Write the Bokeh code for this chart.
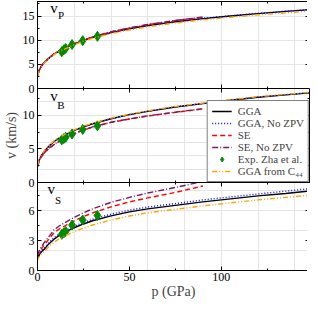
from bokeh.plotting import figure
from bokeh.layouts import column
from bokeh.models import (Range1d, LinearAxis, SingleIntervalTicker, CustomJSTickFormatter,
                          Legend, LegendItem, Label)
from bokeh.embed import file_html
from bokeh.resources import INLINE

# ---------------- data ----------------
p_gga = [0, 1, 2, 4, 6, 9, 12, 15, 20, 25, 30, 40, 50, 60, 75, 90, 105, 120, 135, 148]
p_se = [0, 1, 2, 4, 6, 9, 12, 15, 20, 25, 30, 40, 50, 60, 75, 90]
p_exp = [13.2, 14.3, 15.3, 18.8, 24.6, 32.6]

# v_P
vp_gga = [2.7, 3.8, 4.55, 5.5, 6.2, 7.1, 7.8, 8.35, 9.2, 9.95, 10.55, 11.55, 12.35, 13.0, 13.8, 14.45, 15.0, 15.5, 15.95, 16.3]
vp_gga_nozpv = [2.7, 3.8, 4.55, 5.5, 6.2, 7.1, 7.8, 8.35, 9.22, 9.97, 10.58, 11.58, 12.38, 13.03, 13.83, 14.5, 15.05, 15.55, 15.98, 16.33]
vp_se = [2.7, 3.8, 4.55, 5.5, 6.2, 7.15, 7.85, 8.4, 9.3, 10.05, 10.65, 11.7, 12.5, 13.2, 14.05, 14.75]
vp_se_nozpv = [2.75, 3.85, 4.6, 5.55, 6.25, 7.2, 7.9, 8.45, 9.33, 10.08, 10.68, 11.73, 12.53, 13.23, 14.08, 14.78]
vp_exp = [7.6, 8.0, 8.3, 9.1, 9.9, 10.8]
vp_c44 = [2.6, 3.7, 4.45, 5.4, 6.1, 7.0, 7.7, 8.2, 9.05, 9.8, 10.4, 11.35, 12.1, 12.75, 13.55, 14.2, 14.75, 15.25, 15.65, 16.0]

# v_B
vb_gga = [2.45, 3.35, 3.95, 4.75, 5.35, 6.1, 6.65, 7.1, 7.75, 8.3, 8.75, 9.5, 10.1, 10.6, 11.25, 11.75, 12.25, 12.7, 13.05, 13.35]
vb_gga_nozpv = [2.45, 3.35, 3.95, 4.75, 5.35, 6.1, 6.65, 7.1, 7.75, 8.3, 8.76, 9.52, 10.12, 10.62, 11.27, 11.78, 12.28, 12.73, 13.08, 13.38]
vb_se = [2.4, 3.25, 3.8, 4.5, 5.0, 5.65, 6.15, 6.6, 7.25, 7.8, 8.25, 8.95, 9.45, 9.9, 10.45, 10.95]
vb_se_nozpv = [2.42, 3.28, 3.83, 4.53, 5.03, 5.68, 6.18, 6.63, 7.28, 7.83, 8.28, 8.98, 9.48, 9.93, 10.48, 10.98]
vb_exp = [6.35, 6.54, 6.73, 7.22, 7.9, 8.44]
vb_c44 = [2.55, 3.45, 4.05, 4.85, 5.45, 6.2, 6.75, 7.2, 7.85, 8.38, 8.83, 9.58, 10.18, 10.68, 11.33, 11.83, 12.33, 12.78, 13.13, 13.43]

# v_S
vs_gga = [1.2, 1.6, 1.85, 2.2, 2.65, 3.15, 3.55, 3.85, 4.3, 4.68, 5.0, 5.5, 5.9, 6.2, 6.55, 6.9, 7.2, 7.5, 7.75, 8.0]
vs_gga_nozpv = [1.3, 1.7, 1.95, 2.3, 2.75, 3.3, 3.7, 4.0, 4.45, 4.84, 5.15, 5.67, 6.07, 6.38, 6.73, 7.1, 7.4, 7.7, 7.98, 8.23]
vs_se = [1.4, 1.85, 2.15, 2.65, 3.1, 3.8, 4.2, 4.5, 5.0, 5.42, 5.8, 6.4, 6.9, 7.3, 7.85, 8.5]
vs_se_nozpv = [1.5, 2.0, 2.35, 2.9, 3.35, 4.1, 4.5, 4.82, 5.35, 5.8, 6.2, 6.85, 7.35, 7.8, 8.35, 8.95]
vs_exp = [3.64, 3.78, 3.93, 4.57, 5.08, 5.54]
vs_c44 = [1.0, 1.4, 1.65, 1.95, 2.35, 2.85, 3.2, 3.5, 3.9, 4.26, 4.58, 5.08, 5.48, 5.8, 6.15, 6.5, 6.8, 7.1, 7.35, 7.58]

series_labels = ["GGA", "GGA, No ZPV", "SE", "SE, No ZPV", "Exp. Zha et al.", "GGA from C\u2084\u2084"]
x_max = 148
y_max = [18, 14, 8.85]
y_step = [5, 5, 3]

# ---------------- styling ----------------
FONT = "Liberation Serif"
FW = 272
LW = 1.4
OV = 7  # overlap (px) between stacked panels so boundary tick labels are not cut
line_styles = [
    dict(line_color="black", line_width=LW),
    dict(line_color="#0000ff", line_width=LW, line_dash="1 2"),
    dict(line_color="#ff0000", line_width=LW, line_dash="5 3"),
    dict(line_color="#7a1a5e", line_width=LW, line_dash="6 2 1 2"),
    None,
    dict(line_color="#ffa500", line_width=LW, line_dash="5 2 1 2 1 2"),
]
GREEN = "#008b00"

xr = Range1d(0, x_max)


def style_axis(ax, labels_on):
    ax.axis_line_color = "black"
    ax.axis_line_width = 1
    ax.major_tick_in = 4
    ax.major_tick_out = 0
    ax.minor_tick_in = 2
    ax.minor_tick_out = 0
    ax.major_tick_line_color = "black"
    ax.minor_tick_line_color = "black"
    if labels_on:
        ax.major_label_text_font = FONT
        ax.major_label_text_font_size = "12px"
        ax.major_label_text_color = "black"
        ax.major_label_standoff = 3
    else:
        ax.formatter = CustomJSTickFormatter(code="return ''")
        ax.major_label_text_font_size = "0px"
        ax.major_label_standoff = 0


def panel(idx, fh, ys, name, sub, name_pos, sub_pos, is_top=False, is_bottom=False, ylabel=None):
    f = figure(frame_width=FW, frame_height=fh, x_range=xr, y_range=Range1d(0, y_max[idx]),
               toolbar_location=None, output_backend="svg",
               x_axis_location=None, y_axis_location=None,
               min_border_left=34, min_border_right=1,
               min_border_top=1 if is_top else 0,
               min_border_bottom=0 if is_bottom else OV,
               outline_line_color=None, background_fill_color="white",
               border_fill_color=None)
    if not is_top:
        f.styles = {"margin-top": f"-{OV}px"}
    yt = SingleIntervalTicker(interval=y_step[idx], num_minor_ticks=2)
    left = LinearAxis(ticker=yt)
    style_axis(left, True)
    if ylabel:
        left.axis_label = ylabel
        left.axis_label_text_font = FONT
        left.axis_label_text_font_size = "14px"
        left.axis_label_text_font_style = "normal"
        left.axis_label_standoff = 1
    f.add_layout(left, "left")
    right = LinearAxis(ticker=SingleIntervalTicker(interval=y_step[idx], num_minor_ticks=2))
    style_axis(right, False)
    f.add_layout(right, "right")
    top = LinearAxis(ticker=SingleIntervalTicker(interval=50, num_minor_ticks=2))
    style_axis(top, False)
    f.add_layout(top, "above")
    bot = LinearAxis(ticker=SingleIntervalTicker(interval=50, num_minor_ticks=2))
    style_axis(bot, is_bottom)
    if is_bottom:
        bot.axis_label = "p (GPa)"
        bot.axis_label_text_font = FONT
        bot.axis_label_text_font_size = "14px"
        bot.axis_label_text_font_style = "normal"
        bot.axis_label_standoff = 0
        bot.major_label_standoff = 2
    f.add_layout(bot, "below")

    rends = []
    xs_list = [p_gga, p_gga, p_se, p_se, p_exp, p_gga]
    for k, (xs, yv) in enumerate(zip(xs_list, ys)):
        if k == 4:
            r = f.scatter(xs, yv, marker="diamond", size=10, fill_color=GREEN, line_color=GREEN)
        else:
            r = f.line(xs, yv, **line_styles[k])
        rends.append(r)

    f.add_layout(Label(x=name_pos[0], y=name_pos[1], text=name, text_font=FONT,
                       text_font_size="15px", text_color="black"))
    f.add_layout(Label(x=sub_pos[0], y=sub_pos[1], text=sub, text_font=FONT,
                       text_font_size="11px", text_color="black"))
    return f, rends


f1, _ = panel(0, 87, [vp_gga, vp_gga_nozpv, vp_se, vp_se_nozpv, vp_exp, vp_c44],
              "v", "P", (7, 15.0), (11.2, 14.0), is_top=True)
f2, r2 = panel(1, 94, [vb_gga, vb_gga_nozpv, vb_se, vb_se_nozpv, vb_exp, vb_c44],
               "v", "B", (6.9, 11.7), (10.7, 10.7), ylabel="v (km/s)")
f3, _ = panel(2, 88, [vs_gga, vs_gga_nozpv, vs_se, vs_se_nozpv, vs_exp, vs_c44],
              "v", "S", (5.4, 7.35), (9.5, 6.45), is_bottom=True)

legend = Legend(items=[LegendItem(label=lab, renderers=[r]) for lab, r in zip(series_labels, r2)],
                location="bottom_right", margin=0, padding=4, spacing=0,
                glyph_width=20, glyph_height=12, label_height=12, label_standoff=6,
                label_text_font=FONT, label_text_font_size="11px",
                border_line_color="black", border_line_width=1,
                background_fill_color="white", background_fill_alpha=1)
f2.add_layout(legend)

layout = column(f1, f2, f3, spacing=0)
open("out.html", "w").write(file_html(layout, INLINE))
